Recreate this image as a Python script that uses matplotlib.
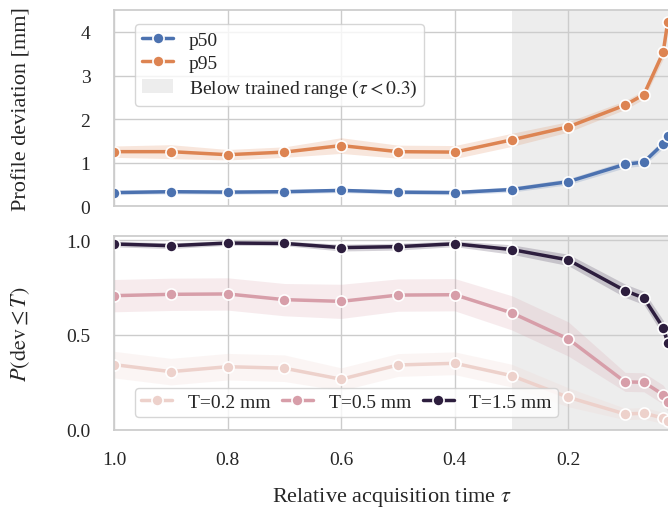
import matplotlib
matplotlib.use("Agg")
import matplotlib.pyplot as plt
import seaborn as sns
import numpy as np

# relative acquisition time
tau = [1.0, 0.9, 0.8, 0.7, 0.6, 0.5, 0.4, 0.3, 0.2, 0.1, 0.067, 0.033, 0.025]

# profile deviation [mm] + CI half widths
p50 = [0.31, 0.33, 0.32, 0.33, 0.36, 0.32, 0.31, 0.38, 0.56, 0.96, 1.01, 1.43, 1.62]
p50_ci = [0.05, 0.05, 0.05, 0.05, 0.05, 0.05, 0.05, 0.06, 0.07, 0.08, 0.08, 0.1, 0.12]
p95 = [1.25, 1.25, 1.18, 1.24, 1.39, 1.25, 1.24, 1.52, 1.82, 2.32, 2.56, 3.53, 4.23]
p95_ci = [0.13, 0.16, 0.12, 0.12, 0.18, 0.15, 0.15, 0.15, 0.12, 0.1, 0.1, 0.15, 0.2]

# P(dev <= T)
thresholds = [0.2, 0.5, 1.5]
prob = {
    0.2: [0.344, 0.307, 0.333, 0.325, 0.267, 0.342, 0.351, 0.286, 0.172, 0.084, 0.088, 0.063, 0.049],
    0.5: [0.707, 0.714, 0.716, 0.686, 0.677, 0.71, 0.712, 0.617, 0.479, 0.253, 0.251, 0.186, 0.149],
    1.5: [0.979, 0.97, 0.984, 0.982, 0.96, 0.965, 0.98, 0.95, 0.895, 0.733, 0.695, 0.538, 0.46],
}
prob_ci = {
    0.2: [0.07, 0.07, 0.07, 0.07, 0.06, 0.06, 0.06, 0.06, 0.05, 0.03, 0.03, 0.03, 0.03],
    0.5: [0.085, 0.085, 0.085, 0.085, 0.09, 0.085, 0.085, 0.09, 0.09, 0.05, 0.05, 0.05, 0.05],
    1.5: [0.015, 0.015, 0.012, 0.012, 0.018, 0.018, 0.015, 0.025, 0.03, 0.035, 0.035, 0.04, 0.04],
}

sns.set_theme(style="whitegrid")
plt.rcParams["font.family"] = ["Liberation Serif", "DejaVu Serif"]
plt.rcParams["mathtext.fontset"] = "stix"
plt.rcParams["font.size"] = 14
plt.rcParams["xtick.labelsize"] = 14
plt.rcParams["ytick.labelsize"] = 14
plt.rcParams["axes.labelsize"] = 16
plt.rcParams["legend.fontsize"] = 14
plt.rcParams["axes.edgecolor"] = "#cccccc"
plt.rcParams["grid.color"] = "#cccccc"
plt.rcParams["xtick.major.pad"] = 15
plt.rcParams["ytick.major.pad"] = 17
plt.rcParams["xtick.major.size"] = 0
plt.rcParams["ytick.major.size"] = 0

cmap = sns.cubehelix_palette(as_cmap=True)
tmin, tmax = min(thresholds), max(thresholds)

# right edge of the axes sits just past the figure edge (reference is cropped there)
fig = plt.figure(figsize=(6.68, 5.1), dpi=100)
ax1 = fig.add_axes([0.1707, 0.594, 0.832, 0.384])
ax2 = fig.add_axes([0.1707, 0.155, 0.832, 0.381], sharex=ax1)

line_kw = dict(marker="o", linewidth=2.5, markersize=8, markeredgecolor="white", markeredgewidth=1.2)

for ax in (ax1, ax2):
    ax.axvspan(0.0, 0.3, color="lightgray", alpha=0.4, zorder=0, lw=0,
               label="Below trained range ($\\tau < 0.3$)" if ax is ax1 else None)

x = np.array(tau)
for vals, ci, col, lab in [(p50, p50_ci, "#4c72b0", "p50"), (p95, p95_ci, "#dd8452", "p95")]:
    vals = np.array(vals)
    ci = np.array(ci)
    ax1.fill_between(x, vals - ci, vals + ci, color=col, alpha=0.2, lw=0)
    ax1.plot(x, vals, color=col, label=lab, **line_kw)

for t in thresholds:
    col = cmap((t - tmin) / (tmax - tmin))
    vals = np.array(prob[t])
    ci = np.array(prob_ci[t])
    ax2.fill_between(x, vals - ci, vals + ci, color=col, alpha=0.2, lw=0)
    ax2.plot(x, vals, color=col, label=f"T={t} mm", **line_kw)

ax1.set_xlim(1.0, 0.0213)
ax1.set_ylim(0, 4.5)
ax1.set_yticks([0, 1, 2, 3, 4])
ax2.set_ylim(0, 1.023)
ax2.set_yticks([0.0, 0.5, 1.0])
ax2.set_xticks([1.0, 0.8, 0.6, 0.4, 0.2])
ax1.tick_params(axis="x", labelbottom=False)

for ax in (ax1, ax2):
    for s in ax.spines.values():
        s.set_linewidth(1.25)

ax1.set_ylabel("Profile deviation [mm]")
ax2.set_ylabel("$P(\\mathrm{dev} \\leq T)$")
ax1.yaxis.set_label_coords(-0.148, 0.5)
ax2.yaxis.set_label_coords(-0.148, 0.5)
ax2.set_xlabel("Relative acquisition time $\\tau$")
ax2.xaxis.set_label_coords(0.5, -0.285)

h, l = ax1.get_legend_handles_labels()
order = [l.index("p50"), l.index("p95"), l.index("Below trained range ($\\tau < 0.3$)")]
ax1.legend([h[i] for i in order], [l[i] for i in order], loc="upper left",
           bbox_to_anchor=(0.038, 0.929), borderaxespad=0, labelspacing=0.3,
           handlelength=1.6, handletextpad=0.8, borderpad=0.35)
ax2.legend(loc="lower left", bbox_to_anchor=(0.038, 0.067), borderaxespad=0, ncol=3,
           handlelength=1.6, handletextpad=0.8, columnspacing=0.6, borderpad=0.3)

fig.savefig("out.png", dpi=100)
